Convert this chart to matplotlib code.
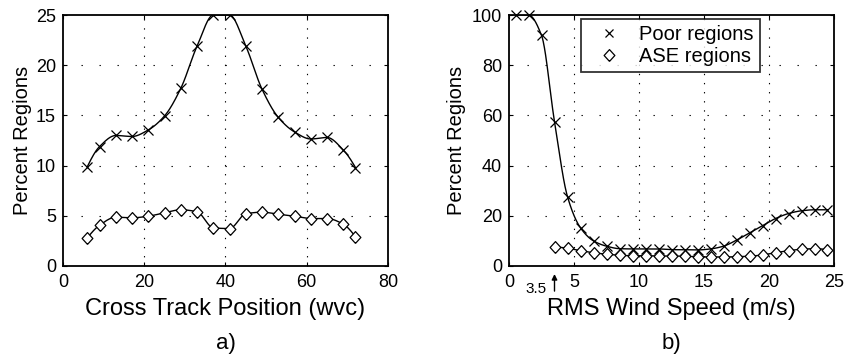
import numpy as np
import matplotlib
matplotlib.use("Agg")
import matplotlib.pyplot as plt
from matplotlib.lines import Line2D

plt.rcParams['font.family'] = ['Liberation Sans', 'DejaVu Sans']

# ---- data: panel a) ----
pos_x = [6, 9, 13, 17, 21, 25, 29, 33, 37, 41, 45, 49, 53, 57, 61, 65, 69, 72]
pos_poor = [9.9, 11.9, 13.0, 12.9, 13.55, 14.95, 17.7, 21.9, 25.0, 25.0,
            21.9, 17.6, 14.8, 13.35, 12.65, 12.8, 11.55, 9.8]
pos_ase = [2.8, 4.06, 4.86, 4.8, 4.96, 5.3, 5.6, 5.4, 3.8, 3.73,
           5.2, 5.36, 5.16, 4.96, 4.73, 4.73, 4.16, 2.9]

# ---- data: panel b) ----
ws_x = [0.5, 1.5, 2.5, 3.5, 4.5, 5.5, 6.5, 7.5, 8.5, 9.5, 10.5, 11.5, 12.5,
        13.5, 14.5, 15.5, 16.5, 17.5, 18.5, 19.5, 20.5, 21.5, 22.5, 23.5, 24.5]
ws_poor = [100, 100, 91.9, 57.5, 27.6, 15.2, 10.0, 7.9, 6.9, 6.8, 6.8, 6.8, 6.5,
           6.5, 6.4, 6.8, 7.9, 10.3, 13.2, 16.1, 18.9, 20.9, 22.0, 22.4, 22.4]
ws_ase_x = ws_x[3:]
ws_ase = [7.6, 7.1, 6.1, 5.3, 4.7, 4.3, 4.1, 4.1, 4.0, 4.0, 3.9, 3.7,
          3.6, 3.6, 3.7, 3.9, 4.4, 5.3, 6.1, 6.7, 6.9, 6.5]

xticks_a = [0, 20, 40, 60, 80]
yticks_a = [0, 5, 10, 15, 20, 25]
xticks_b = [0, 5, 10, 15, 20, 25]
yticks_b = [0, 20, 40, 60, 80, 100]


def pchip(x, y, xn):
    x = np.asarray(x, float); y = np.asarray(y, float)
    h = np.diff(x); delta = np.diff(y) / h
    n = len(x); d = np.zeros(n)
    for k in range(1, n - 1):
        if delta[k - 1] * delta[k] <= 0:
            d[k] = 0.0
        else:
            w1 = 2 * h[k] + h[k - 1]; w2 = h[k] + 2 * h[k - 1]
            d[k] = (w1 + w2) / (w1 / delta[k - 1] + w2 / delta[k])

    def endslope(h0, h1, d0, d1):
        s = ((2 * h0 + h1) * d0 - h0 * d1) / (h0 + h1)
        if np.sign(s) != np.sign(d0):
            s = 0.0
        elif np.sign(d0) != np.sign(d1) and abs(s) > abs(3 * d0):
            s = 3 * d0
        return s
    d[0] = endslope(h[0], h[1], delta[0], delta[1])
    d[-1] = endslope(h[-1], h[-2], delta[-1], delta[-2])
    xn = np.asarray(xn, float)
    idx = np.clip(np.searchsorted(x, xn) - 1, 0, n - 2)
    t = (xn - x[idx]) / h[idx]
    h00 = 2 * t**3 - 3 * t**2 + 1; h10 = t**3 - 2 * t**2 + t
    h01 = -2 * t**3 + 3 * t**2; h11 = t**3 - t**2
    return h00 * y[idx] + h10 * h[idx] * d[idx] + h01 * y[idx + 1] + h11 * h[idx] * d[idx + 1]


fig = plt.figure(figsize=(8.48, 3.56), dpi=100)
ax1 = fig.add_axes([63 / 848, 90 / 356, 325 / 848, 251 / 356])
ax2 = fig.add_axes([509 / 848, 90 / 356, 325 / 848, 251 / 356])

lw = 1.0
diamond = [(0, -1.1), (1, 0), (0, 1.1), (-1, 0), (0, -1.1)]
mkw_x = dict(marker='x', ms=6.5, mew=0.9, color='black', linestyle='none')
mkw_d = dict(marker=diamond, ms=8.5, mew=0.9, mfc='white', mec='black', linestyle='none')


def style(ax, xt, yt, xlim, ylim):
    ax.set_xlim(*xlim); ax.set_ylim(*ylim)
    ax.set_xticks(xt); ax.set_yticks(yt)
    ax.tick_params(direction='in', length=3, width=0.8, top=True, right=True,
                   labelsize=13, pad=5)
    ax.tick_params(axis='x', pad=6)
    for s in ax.spines.values():
        s.set_linewidth(1.3)
    for t in xt[1:-1]:
        ax.axvline(t, color='black', lw=0.8, linestyle=(0, (1.2, 7)), zorder=0)
    for t in yt[1:-1]:
        ax.axhline(t, color='black', lw=0.8, linestyle=(0, (1.2, 15)), zorder=0)


# panel a
xs = np.linspace(pos_x[0], pos_x[-1], 600)
ax1.plot(xs, pchip(pos_x, pos_poor, xs), color='black', lw=lw)
ax1.plot(xs, pchip(pos_x, pos_ase, xs), color='black', lw=lw)
ax1.plot(pos_x, pos_poor, **mkw_x, zorder=3)
ax1.plot(pos_x, pos_ase, **mkw_d, zorder=3)
style(ax1, xticks_a, yticks_a, (0, 80), (0, 25))
ax1.set_xlabel('Cross Track Position (wvc)', fontsize=17, va='top')
ax1.xaxis.set_label_coords(0.5, -0.128)
ax1.set_ylabel('Percent Regions', fontsize=14.5, va='center')
ax1.yaxis.set_label_coords(-0.126, 0.5)
ax1.text(0.5, -0.31, 'a)', transform=ax1.transAxes, ha='center', va='center', fontsize=16)

# panel b
xs2 = np.linspace(ws_x[0], ws_x[-1], 800)
ax2.plot(xs2, pchip(ws_x, ws_poor, xs2), color='black', lw=lw)
xs3 = np.linspace(ws_ase_x[0], ws_ase_x[-1], 800)
ax2.plot(xs3, pchip(ws_ase_x, ws_ase, xs3), color='black', lw=lw)
ax2.plot(ws_x, ws_poor, **mkw_x, zorder=3, clip_on=False)
ax2.plot(ws_ase_x, ws_ase, **mkw_d, zorder=3)
style(ax2, xticks_b, yticks_b, (0, 25), (0, 100))
ax2.set_xlabel('RMS Wind Speed (m/s)', fontsize=17, va='top')
ax2.xaxis.set_label_coords(0.5, -0.128)
ax2.set_ylabel('Percent Regions', fontsize=14.5, va='center')
ax2.yaxis.set_label_coords(-0.163, 0.5)
ax2.text(0.5, -0.31, 'b)', transform=ax2.transAxes, ha='center', va='center', fontsize=16)

trans = ax2.get_xaxis_transform()
ax2.annotate('', xy=(3.5, -0.032), xytext=(3.5, -0.10), xycoords=trans, textcoords=trans,
             arrowprops=dict(arrowstyle='-|>', color='black', lw=1.0, mutation_scale=8,
                             shrinkA=0, shrinkB=0), annotation_clip=False)
ax2.text(2.05, -0.09, '3.5', transform=trans, ha='center', va='center', fontsize=11)

handles = [Line2D([], [], marker='x', ms=5.5, mew=0.9, color='black', linestyle='none'),
           Line2D([], [], **mkw_d)]
leg = ax2.legend(handles, ['Poor regions', 'ASE regions'], loc='upper left',
                 bbox_to_anchor=((581 - 509) / 325, (266 - 19) / 251), borderaxespad=0,
                 fontsize=14.5, frameon=True, fancybox=False, handlelength=2.2,
                 handletextpad=0.4, borderpad=0.3, labelspacing=0.15)
leg.get_frame().set_edgecolor('black')
leg.get_frame().set_linewidth(1.3)

fig.savefig('out.png', dpi=100)
